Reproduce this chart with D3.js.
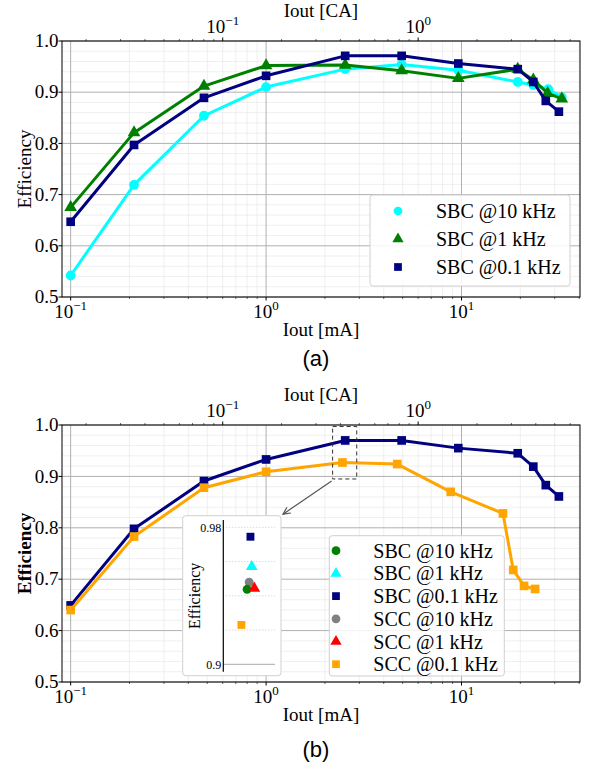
<!DOCTYPE html>
<html><head><meta charset="utf-8">
<script src="https://cdn.jsdelivr.net/npm/d3@7"></script>
<style>
body{margin:0;background:#fff}
svg{display:block}
text{font-family:"Liberation Serif","Times New Roman",serif;fill:#000}
</style>
</head><body>
<svg id="c" width="589" height="770"></svg>
<script>
// ---------------- DATA ----------------
const capacity_mAh = 6;              // Iout [CA] = Iout [mA] / capacity
const xDomain = [0.0903, 40.4];      // mA
const yDomain = [0.5, 1.0];
const yTicks = [0.5, 0.6, 0.7, 0.8, 0.9, 1.0];
const xTicksMA = [0.1, 1, 10];
const xTicksCA = [0.1, 1];

// Panel (a)
const sbc10k_x = [0.1, 0.211, 0.481, 1.0, 2.54, 4.94, 9.63, 19.4, 23.3, 27.8, 32.6];
const sbc10k_y = [0.542, 0.719, 0.854, 0.910, 0.945, 0.954, 0.943, 0.920, 0.914, 0.906, 0.890];
const sbc1k_x  = [0.1, 0.211, 0.481, 1.0, 2.54, 4.94, 9.63, 19.4, 23.3, 27.6, 32.6];
const sbc1k_y  = [0.675, 0.821, 0.912, 0.952, 0.953, 0.942, 0.927, 0.945, 0.924, 0.898, 0.887];
const sbc01k_x = [0.1, 0.211, 0.481, 1.0, 2.54, 4.94, 9.63, 19.4, 23.3, 27.0, 31.5];
const sbc01k_y = [0.647, 0.797, 0.889, 0.932, 0.971, 0.971, 0.956, 0.945, 0.920, 0.883, 0.862];

// Panel (b)
const sbc01kB_y = [0.649, 0.798, 0.891, 0.933, 0.970, 0.970, 0.955, 0.945, 0.919, 0.883, 0.861];
const scc01k_x  = [0.1, 0.211, 0.481, 1.0, 2.46, 4.69, 8.81, 16.3, 18.4, 20.9, 23.8];
const scc01k_y  = [0.640, 0.783, 0.878, 0.909, 0.927, 0.924, 0.870, 0.828, 0.718, 0.687, 0.681];

// Inset of panel (b): zoom window and the six series values
const zoomBoxX = [2.19, 2.91];
const zoomBoxY = [0.895, 0.997];
const insetNames = ["SBC @10 kHz", "SBC @1 kHz", "SBC @0.1 kHz", "SCC @10 kHz", "SCC @1 kHz", "SCC @0.1 kHz"];
const insetX = [0.46, 0.55, 0.525, 0.50, 0.60, 0.35];
const insetY = [0.9438, 0.957, 0.9745, 0.948, 0.9444, 0.923];
const insetYDomain = [0.9, 0.98];
const insetYTicks = [0.9, 0.98];
const insetGrid = [0.92, 0.94, 0.96, 0.98];

// ---------------- STYLE ----------------
const COL = {cyan:"#00ffff", green:"#008000", navy:"#000080", gray:"#808080", red:"#ff0000", orange:"#ffa500"};
const SYM = {circle:d3.symbolCircle, triangle:d3.symbolTriangle, square:d3.symbolSquare};

const svg = d3.select("#c");

function sup(textSel, v) {
  const e = Math.round(Math.log10(v));
  textSel.text(null);
  textSel.append("tspan").text("10");
  textSel.append("tspan").attr("dy", -8).attr("font-size", 13).text(e < 0 ? "\u2212" + (-e) : String(e));
}

function marker(g, shape, color, cx, cy, size) {
  g.append("path")
    .attr("d", d3.symbol().type(SYM[shape]).size(size)())
    .attr("transform", `translate(${cx},${cy})`)
    .attr("fill", color);
}

function panel(top, bottom, series, yBold) {
  const L = 62, R = 580;
  const x = d3.scaleLog().domain(xDomain).range([L, R]);
  const xCA = d3.scaleLog().domain([xDomain[0] / capacity_mAh, xDomain[1] / capacity_mAh]).range([L, R]);
  const y = d3.scaleLinear().domain(yDomain).range([bottom, top]);
  const g = svg.append("g");

  // minor grid
  const minorX = [];
  for (let k = -2; k <= 1; k++) for (let m = 2; m <= 9; m++) {
    const v = m * Math.pow(10, k);
    if (v > xDomain[0] && v < xDomain[1]) minorX.push(v);
  }
  const minorY = d3.range(0.52, 1.0, 0.02).filter(v => Math.abs(v * 10 - Math.round(v * 10)) > 1e-6);
  g.selectAll(null).data(minorX).join("line")
    .attr("x1", d => x(d)).attr("x2", d => x(d)).attr("y1", top).attr("y2", bottom)
    .attr("stroke", "#ebebeb").attr("stroke-width", 0.8);
  g.selectAll(null).data(minorY).join("line")
    .attr("x1", L).attr("x2", R).attr("y1", d => y(d)).attr("y2", d => y(d))
    .attr("stroke", "#ebebeb").attr("stroke-width", 0.8);
  // major grid
  g.selectAll(null).data(xTicksMA).join("line")
    .attr("x1", d => x(d)).attr("x2", d => x(d)).attr("y1", top).attr("y2", bottom)
    .attr("stroke", "#b0b0b0").attr("stroke-width", 1);
  g.selectAll(null).data(yTicks).join("line")
    .attr("x1", L).attr("x2", R).attr("y1", d => y(d)).attr("y2", d => y(d))
    .attr("stroke", "#b0b0b0").attr("stroke-width", 1);

  // series
  const line = d3.line().x(d => x(d[0])).y(d => y(d[1]));
  series.forEach(s => {
    const pts = d3.zip(s.x, s.y);
    g.append("path").datum(pts).attr("d", line)
      .attr("fill", "none").attr("stroke", s.color).attr("stroke-width", 3)
      .attr("stroke-linejoin", "round");
    pts.forEach(p => marker(g, s.shape, s.color, x(p[0]), y(p[1]), s.shape === "triangle" ? 70 : 75));
  });

  // spines
  g.append("rect").attr("x", L).attr("y", top).attr("width", R - L).attr("height", bottom - top)
    .attr("fill", "none").attr("stroke", "#000").attr("stroke-width", 1);

  // left axis
  g.selectAll(null).data(yTicks).join("line")
    .attr("x1", L - 3.5).attr("x2", L).attr("y1", d => y(d)).attr("y2", d => y(d)).attr("stroke", "#000");
  g.selectAll(null).data(yTicks).join("text")
    .attr("x", L - 3.5).attr("y", d => y(d)).attr("dy", "0.33em")
    .attr("text-anchor", "end").attr("font-size", 19).text(d3.format(".1f"));

  // bottom axis
  g.selectAll(null).data(xTicksMA).join("line")
    .attr("x1", d => x(d)).attr("x2", d => x(d)).attr("y1", bottom).attr("y2", bottom + 3.5).attr("stroke", "#000");
  g.selectAll(null).data(minorX).join("line")
    .attr("x1", d => x(d)).attr("x2", d => x(d)).attr("y1", bottom).attr("y2", bottom + 2).attr("stroke", "#000").attr("stroke-width", 0.6);
  xTicksMA.forEach(v => {
    const t = g.append("text").attr("x", x(v)).attr("y", bottom + 21).attr("text-anchor", "middle").attr("font-size", 19);
    sup(t, v);
  });
  g.append("text").attr("x", (L + R) / 2).attr("y", bottom + 39).attr("text-anchor", "middle")
    .attr("font-size", 19).text("Iout [mA]");

  // top axis (CA)
  const minorCA = [];
  for (let k = -3; k <= 1; k++) for (let m = 2; m <= 9; m++) {
    const v = m * Math.pow(10, k);
    if (v > xCA.domain()[0] && v < xCA.domain()[1]) minorCA.push(v);
  }
  g.selectAll(null).data(xTicksCA).join("line")
    .attr("x1", d => xCA(d)).attr("x2", d => xCA(d)).attr("y1", top).attr("y2", top - 3.5).attr("stroke", "#000");
  g.selectAll(null).data(minorCA).join("line")
    .attr("x1", d => xCA(d)).attr("x2", d => xCA(d)).attr("y1", top).attr("y2", top - 2).attr("stroke", "#000").attr("stroke-width", 0.6);
  xTicksCA.forEach(v => {
    const t = g.append("text").attr("x", xCA(v)).attr("y", top - 8).attr("text-anchor", "middle").attr("font-size", 19);
    sup(t, v);
  });
  g.append("text").attr("x", (L + R) / 2).attr("y", top - 24).attr("text-anchor", "middle")
    .attr("font-size", 19).text("Iout [CA]");

  // y label
  g.append("text").attr("transform", `translate(31,${(top + bottom) / 2}) rotate(-90)`)
    .attr("text-anchor", "middle").attr("font-size", 19)
    .attr("font-weight", yBold ? "bold" : "normal").text("Efficiency");

  return {g, x, y};
}

function legend(g, items, bx, by, bw, bh, mx, tx, y0, dy) {
  g.append("rect").attr("x", bx).attr("y", by).attr("width", bw).attr("height", bh)
    .attr("rx", 3).attr("fill", "#fff").attr("fill-opacity", 0.85).attr("stroke", "#d0d0d0");
  items.forEach((it, i) => {
    marker(g, it.shape, it.color, mx, y0 + i * dy, it.shape === "triangle" ? 55 : 60);
    g.append("text").attr("x", tx).attr("y", y0 + i * dy).attr("dy", "0.35em")
      .attr("font-size", 20).text(it.name);
  });
}

// ---------------- PANEL (a) ----------------
const seriesA = [
  {name: "SBC @10 kHz", x: sbc10k_x, y: sbc10k_y, color: COL.cyan, shape: "circle"},
  {name: "SBC @1 kHz", x: sbc1k_x, y: sbc1k_y, color: COL.green, shape: "triangle"},
  {name: "SBC @0.1 kHz", x: sbc01k_x, y: sbc01k_y, color: COL.navy, shape: "square"}
];
const A = panel(41, 297, seriesA, false);
legend(A.g, seriesA, 370, 195, 200, 91, 398, 436, 211, 28);
svg.append("text").attr("x", 316).attr("y", 366).attr("text-anchor", "middle")
  .style("font-family", "'Liberation Sans',Arial,sans-serif").attr("font-size", 22).text("(a)");

// ---------------- PANEL (b) ----------------
const seriesB = [
  {name: "SBC @0.1 kHz", x: sbc01k_x, y: sbc01kB_y, color: COL.navy, shape: "square"},
  {name: "SCC @0.1 kHz", x: scc01k_x, y: scc01k_y, color: COL.orange, shape: "square"}
];
const B = panel(425, 682, seriesB, true);

// zoom box
B.g.append("rect")
  .attr("x", B.x(zoomBoxX[0])).attr("y", B.y(zoomBoxY[1]))
  .attr("width", B.x(zoomBoxX[1]) - B.x(zoomBoxX[0])).attr("height", B.y(zoomBoxY[0]) - B.y(zoomBoxY[1]))
  .attr("fill", "none").attr("stroke", "#333").attr("stroke-width", 1).attr("stroke-dasharray", "4,3");

// inset
const inL = 182.7, inR = 281, inT = 515.7, inB = 675.7;
const ix = d3.scaleLinear().domain([0, 1]).range([223.3, 275]);
const iy = d3.scaleLinear().domain(insetYDomain).range([664.3, 527.3]);
const ig = svg.append("g");
ig.append("rect").attr("x", inL).attr("y", inT).attr("width", inR - inL).attr("height", inB - inT)
  .attr("rx", 3).attr("fill", "#fff").attr("stroke", "#d0d0d0");
ig.selectAll(null).data(insetGrid).join("line")
  .attr("x1", ix(0)).attr("x2", ix(1)).attr("y1", d => iy(d)).attr("y2", d => iy(d))
  .attr("stroke", "#c8c8c8").attr("stroke-dasharray", "1,2");
ig.append("line").attr("x1", ix(0)).attr("x2", ix(1)).attr("y1", iy(0.9)).attr("y2", iy(0.9))
  .attr("stroke", "#aaa");
ig.append("line").attr("x1", ix(0)).attr("x2", ix(0)).attr("y1", iy(0.9) + 7.4).attr("y2", iy(0.98) - 7.3)
  .attr("stroke", "#000").attr("stroke-width", 1.2);
ig.selectAll(null).data(insetYTicks).join("text")
  .attr("x", ix(0) - 2).attr("y", d => iy(d)).attr("dy", "0.35em").attr("text-anchor", "end")
  .attr("font-size", 12).text(d => d === 0.9 ? "0.9" : d3.format(".2f")(d));
ig.append("text").attr("transform", `translate(200,${(iy(0.9) + iy(0.98)) / 2}) rotate(-90)`)
  .attr("text-anchor", "middle").attr("font-size", 16).text("Efficiency");
const insetStyle = [
  {color: COL.green, shape: "circle"}, {color: COL.cyan, shape: "triangle"}, {color: COL.navy, shape: "square"},
  {color: COL.gray, shape: "circle"}, {color: COL.red, shape: "triangle"}, {color: COL.orange, shape: "square"}
];
const drawOrder = [2, 1, 3, 0, 4, 5];
drawOrder.forEach(i => marker(ig, insetStyle[i].shape, insetStyle[i].color, ix(insetX[i]), iy(insetY[i]), insetStyle[i].shape === "triangle" ? 60 : 62));

// arrow from zoom box to inset
const ax1 = B.x(zoomBoxX[0]) - 1, ay1 = B.y(zoomBoxY[0]) + 2, ax2 = inR + 2, ay2 = inT - 1.5;
svg.append("line").attr("x1", ax1).attr("y1", ay1).attr("x2", ax2).attr("y2", ay2)
  .attr("stroke", "#555").attr("stroke-width", 1.2);
{
  const ang = Math.atan2(ay2 - ay1, ax2 - ax1), hl = 8, ha = 0.45;
  const p1 = [ax2 - hl * Math.cos(ang - ha), ay2 - hl * Math.sin(ang - ha)];
  const p2 = [ax2 - hl * Math.cos(ang + ha), ay2 - hl * Math.sin(ang + ha)];
  svg.append("path").attr("d", `M${p1}L${ax2},${ay2}L${p2}`).attr("fill", "none")
    .attr("stroke", "#555").attr("stroke-width", 1.2);
}

// legend (b)
const legendB = insetNames.map((n, i) => ({name: n, color: insetStyle[i].color, shape: insetStyle[i].shape}));
legend(B.g, legendB, 329.3, 535.7, 175, 140.3, 336, 373.3, 550.7, 22.7);

svg.append("text").attr("x", 316).attr("y", 757).attr("text-anchor", "middle")
  .style("font-family", "'Liberation Sans',Arial,sans-serif").attr("font-size", 22).text("(b)");
</script>
</body></html>
